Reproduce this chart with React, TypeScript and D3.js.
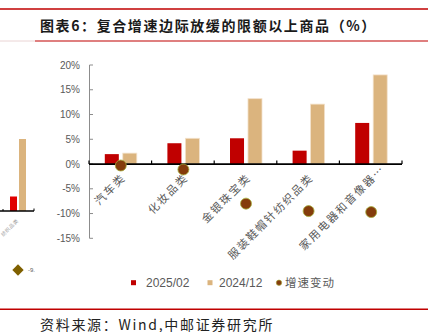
import React from "react";
import * as d3 from "d3";

const categories = ["汽车类", "化妆品类", "金银珠宝类", "服装鞋帽针纺织品类", "家用电器和音像器…"];
const series2025 = [2.0, 4.2, 5.2, 2.7, 8.3];
const series2024 = [2.2, 5.2, 13.2, 12.1, 18.0];
const changeValues = [-0.3, -1.1, -8.0, -9.5, -9.7];
const yTicks = [20, 15, 10, 5, 0, -5, -10, -15];
const seriesNames = ["2025/02", "2024/12"];
const legendNames = ["2025/02", "2024/12", "增速变动"];
// partial neighbouring chart at the left edge
const leftRed = [2.9];
const leftTan = [14.4];

const W = 438;
const H = 332;
const RED = "#C00000";
const TAN = "#DBB47E";
const DOT = "#843C0C";
const DOT_STROKE = "#A6AE3C";
const GRAY = "#595959";
const CJK = "'Noto Sans CJK SC', 'Noto Sans', sans-serif";
const LAT = "'Liberation Sans', Arial, sans-serif";

export default function App() {
  const x0 = d3.scaleBand<string>().domain(categories).range([89, 402]).padding(0);
  const x1 = d3.scaleBand<string>().domain(seriesNames).range([-16, 16]).paddingInner(0.22);
  const y = d3.scaleLinear().domain([-15, 20]).range([238.3, 65]);
  const y0 = y(0);
  const bw = x1.bandwidth();

  // left partial chart scale
  const yl = d3.scaleLinear().domain([0, 10]).range([211, 161]);

  const boundaries = categories.map((c) => x0(c) as number).concat([402]);

  return (
    <svg width={W} height={H} style={{ position: "absolute", left: 0, top: 0 }}>
      <rect width={W} height={H} fill="#fff" />
      {/* header lines */}
      <line x1={0} x2={428} y1={9} y2={9} stroke={RED} strokeWidth={1.5} />
      <line x1={0} x2={35} y1={41} y2={41} stroke="#ead4d4" strokeWidth={1} />
      <line x1={35} x2={428} y1={41} y2={41} stroke={RED} strokeWidth={1.2} />
      <text x={40} y={30.5} fontFamily={CJK} fontSize={14} fontWeight={700} fill="#1a1a1a" letterSpacing={1.6}>
        图表6：复合增速边际放缓的限额以上商品（%）
      </text>

      {/* left partial chart */}
      <g>
        <rect x={10} y={yl(leftRed[0])} width={7} height={211 - yl(leftRed[0])} fill="#E00000" />
        <rect x={19} y={yl(leftTan[0])} width={7} height={211 - yl(leftTan[0])} fill={TAN} />
        <line x1={0} x2={34} y1={211} y2={211} stroke="#000" strokeWidth={1.5} />
        <line x1={34} x2={34} y1={208.5} y2={211} stroke="#000" strokeWidth={1} />
        <line x1={3} x2={3} y1={209} y2={211} stroke="#000" strokeWidth={1} />
        <text
          transform="translate(19,221) rotate(-45)"
          textAnchor="end"
          fontFamily={CJK}
          fontSize={5}
          fill="#9a9a9a"
          letterSpacing={0.6}
        >
          纺织品类
        </text>
        <rect x={14} y={266} width={8} height={8} fill="#7F6000" transform="rotate(45,18,270)" />
        <text x={28} y={272} fontFamily={LAT} fontSize={6} fill={GRAY}>
          -9.
        </text>
      </g>

      {/* y axis */}
      <line x1={89.5} x2={89.5} y1={65} y2={238.3} stroke="#8c8c8c" strokeWidth={1} />
      {yTicks.map((t) => (
        <g key={t}>
          <line x1={89.5} x2={93} y1={y(t)} y2={y(t)} stroke="#8c8c8c" strokeWidth={1} />
          <text x={80} y={y(t) + 3.6} textAnchor="end" fontFamily={LAT} fontSize={10} fill={GRAY}>
            {`${t}%`}
          </text>
        </g>
      ))}

      {/* bars */}
      {categories.map((c, i) => {
        const cx = (x0(c) as number) + x0.bandwidth() / 2 + 0.5;
        const v1 = series2025[i];
        const v2 = series2024[i];
        return (
          <g key={c}>
            <rect
              x={cx + (x1(seriesNames[0]) as number)}
              y={Math.min(y(v1), y0)}
              width={bw}
              height={Math.abs(y(v1) - y0)}
              fill={RED}
            />
            <rect
              x={cx + (x1(seriesNames[1]) as number)}
              y={Math.min(y(v2), y0)}
              width={bw}
              height={Math.abs(y(v2) - y0)}
              fill={TAN}
              stroke="#F3E2CC"
              strokeWidth={0.8}
            />
          </g>
        );
      })}

      {/* x axis */}
      <line x1={89} x2={402} y1={y0} y2={y0} stroke="#000" strokeWidth={1.7} />
      {boundaries.map((b, i) => (
        <line key={i} x1={b} x2={b} y1={y0} y2={y0 - 3.5} stroke="#000" strokeWidth={1.2} />
      ))}

      {/* x labels */}
      {categories.map((c) => {
        const cx = (x0(c) as number) + x0.bandwidth() / 2;
        const extra = c.endsWith("…") ? 12.5 : 0;
        return (
          <text
            key={c}
            transform={`translate(${cx + 6},${178.5}) rotate(-45)`}
            dx={extra}
            textAnchor="end"
            fontFamily={CJK}
            fontSize={11}
            fill={GRAY}
            letterSpacing={1.8}
          >
            {c}
          </text>
        );
      })}

      {/* change dots */}
      {categories.map((c, i) => {
        const cx = (x0(c) as number) + x0.bandwidth() / 2 + 0.5;
        return (
          <circle key={c} cx={cx} cy={y(changeValues[i])} r={5.5} fill={DOT} stroke={DOT_STROKE} strokeWidth={0.8} />
        );
      })}

      {/* legend */}
      <rect x={131} y={280.2} width={5} height={5} fill={RED} />
      <text x={146} y={287} fontFamily={LAT} fontSize={12} fill={GRAY}>
        {legendNames[0]}
      </text>
      <rect x={207.5} y={280.2} width={5} height={5} fill={TAN} />
      <text x={219} y={287} fontFamily={LAT} fontSize={12} fill={GRAY}>
        {legendNames[1]}
      </text>
      <circle cx={279} cy={282.7} r={2.7} fill={DOT} stroke={DOT_STROKE} strokeWidth={0.6} />
      <text x={285} y={287} fontFamily={CJK} fontSize={11.5} fill={GRAY} letterSpacing={1}>
        {legendNames[2]}
      </text>

      {/* footer */}
      <line x1={0} x2={428} y1={309.3} y2={309.3} stroke={RED} strokeWidth={1.5} />
      <text x={40} y={329.5} fontFamily={CJK} fontSize={14} fill="#222" letterSpacing={1.7}>
        资料来源：Wind,中邮证券研究所
      </text>
    </svg>
  );
}
